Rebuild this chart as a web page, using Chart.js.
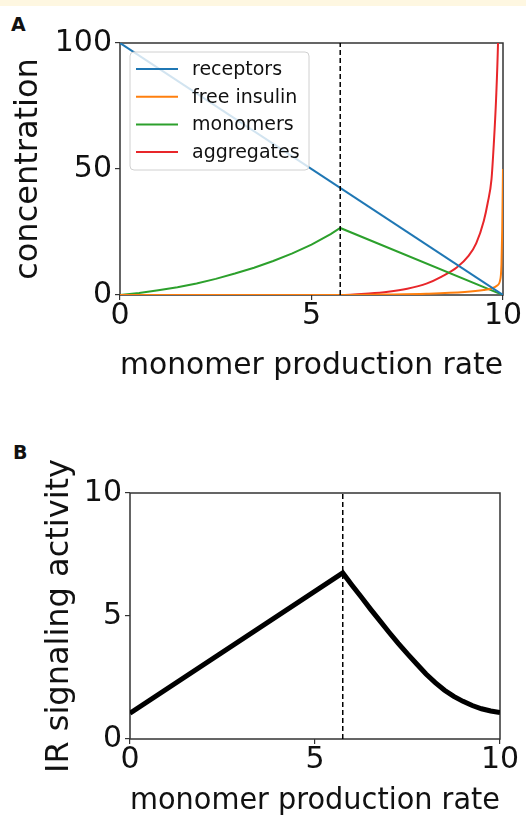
<!DOCTYPE html>
<html>
<head>
<meta charset="utf-8">
<script src="https://cdn.jsdelivr.net/npm/chart.js@4.4.1/dist/chart.umd.min.js"></script>
<style>
  body { margin: 0; background: #fff; }
  #wrap { position: relative; width: 526px; height: 816px; overflow: hidden; background: #fff; }
  #strip { position: absolute; left: 0; top: 0; width: 526px; height: 6px; background: #fef7e1; }
  .panel { position: absolute; font-family: 'DejaVu Sans', sans-serif; font-weight: bold; font-size: 19px; color: #111; }
  canvas { position: absolute; left: 0; }
</style>
</head>
<body>
<div id="wrap">
  <div id="strip"></div>
  <div class="panel" style="left:11px; top:13px;">A</div>
  <div class="panel" style="left:13px; top:441px;">B</div>
  <canvas id="chartA" width="526" height="400" style="top:0px;"></canvas>
  <canvas id="chartB" width="526" height="406" style="top:410px;"></canvas>
</div>
<script>
// x position of the dashed line
const criticalRate = 5.75;

// tick values
const rateTicks = [0, 5, 10];
const concTicks = [0, 50, 100];
const irTicks = [0, 5, 10];

// panel A series
const receptorsX = [0, 10];
const receptorsY = [100, 0];

const insulinX = [0, 5.75, 7, 8, 9, 9.5, 9.7, 9.85, 9.92, 9.96, 9.98, 10];
const insulinY = [0, 0, 0.2, 0.5, 1.2, 2, 2.6, 3.8, 5.5, 12, 26, 50];

const monomersX = [0, 0.5, 1, 1.5, 2, 2.5, 3, 3.5, 4, 4.5, 5, 5.5, 5.75, 10];
const monomersY = [0, 0.8, 1.9, 3.1, 4.6, 6.4, 8.5, 10.8, 13.5, 16.5, 20, 24.2, 26.6, 0];

const aggregatesX = [0, 5.75, 6.5, 7, 7.5, 8, 8.4, 8.8, 9.1, 9.3, 9.5, 9.6, 9.7, 9.76, 9.82, 9.87, 9.92];
const aggregatesY = [0, 0, 0.6, 1.3, 2.5, 4.5, 7.3, 11, 15.5, 20.5, 29.5, 36.5, 46, 60, 78, 100, 140];

// panel B series
const signalX = [0, 5.75, 6, 6.25, 6.5, 6.75, 7, 7.25, 7.5, 7.75, 8, 8.25, 8.5, 8.75, 9, 9.25, 9.5, 9.75, 10];
const signalY = [1.05, 6.75, 6.25, 5.77, 5.28, 4.81, 4.34, 3.89, 3.46, 3.05, 2.64, 2.29, 1.98, 1.73, 1.53, 1.36, 1.23, 1.14, 1.08];

const FONT = 'DejaVu Sans';
const pts = (xs, ys) => xs.map((x, i) => ({ x: x, y: ys[i] }));

const frame = {
  id: 'frame',
  beforeDatasetsDraw(chart) {
    const a = chart.chartArea, ctx = chart.ctx;
    ctx.save();
    ctx.strokeStyle = '#333';
    ctx.lineWidth = 1.5;
    ctx.strokeRect(a.left, a.top, a.right - a.left, a.bottom - a.top);
    ctx.restore();
  }
};

const boxLegend = {
  id: 'boxLegend',
  afterDatasetsDraw(chart) {
    const a = chart.chartArea, ctx = chart.ctx;
    const items = chart.data.datasets.filter(d => d.label);
    const x0 = a.left + 10, y0 = a.top + 9, w = 179, h = 118;
    ctx.save();
    ctx.beginPath();
    ctx.roundRect(x0, y0, w, h, 4);
    ctx.fillStyle = 'rgba(255,255,255,0.8)';
    ctx.fill();
    ctx.strokeStyle = '#d0d0d0';
    ctx.lineWidth = 1;
    ctx.stroke();
    ctx.font = '19px "' + FONT + '"';
    ctx.textBaseline = 'middle';
    items.forEach((d, i) => {
      const y = y0 + 17 + i * 27.7;
      ctx.strokeStyle = d.borderColor;
      ctx.lineWidth = 2;
      ctx.beginPath();
      ctx.moveTo(x0 + 6, y);
      ctx.lineTo(x0 + 48, y);
      ctx.stroke();
      ctx.fillStyle = '#111';
      ctx.fillText(d.label, x0 + 62, y + 1);
    });
    ctx.restore();
  }
};

function axisX(tickVals, height) {
  return {
    type: 'linear', min: 0, max: 10,
    afterBuildTicks: s => { s.ticks = tickVals.map(v => ({ value: v })); },
    afterFit: s => { s.height = height; },
    border: { display: false },
    grid: { drawOnChartArea: false, drawTicks: true, tickLength: 5, color: '#333', lineWidth: 1.2 },
    ticks: { color: '#111', padding: 1, maxRotation: 0, font: { family: FONT, size: 30, lineHeight: 1 } },
    title: { display: true, text: 'monomer production rate', color: '#111', padding: { top: 0, bottom: 0 },
             font: { family: FONT, size: 30, lineHeight: 1 } }
  };
}

function axisY(tickVals, min, max, width, title, titlePad) {
  return {
    type: 'linear', min: min, max: max,
    afterBuildTicks: s => { s.ticks = tickVals.map(v => ({ value: v })); },
    afterFit: s => { s.width = width; },
    border: { display: false },
    grid: { drawOnChartArea: false, drawTicks: true, tickLength: 5, color: '#333', lineWidth: 1.2 },
    ticks: { color: '#111', padding: 3, font: { family: FONT, size: 30, lineHeight: 1 } },
    title: { display: true, text: title, color: '#111', padding: { top: titlePad, bottom: 0 },
             font: { family: FONT, size: 32, lineHeight: 1 } }
  };
}

const lineDs = (label, xs, ys, color, w, smooth) => ({
  label: label, data: pts(xs, ys), borderColor: color, backgroundColor: color,
  borderWidth: w, pointRadius: 0, fill: false,
  cubicInterpolationMode: smooth ? 'monotone' : 'default', tension: smooth ? 0.4 : 0
});

const dashedDs = (top) => ({
  label: '', data: [{ x: criticalRate, y: 0 }, { x: criticalRate, y: top }],
  borderColor: '#000', borderWidth: 1.5, borderDash: [5, 3], pointRadius: 0, fill: false
});

new Chart(document.getElementById('chartA'), {
  type: 'line',
  data: {
    datasets: [
      dashedDs(100),
      lineDs('receptors', receptorsX, receptorsY, '#1f77b4', 2, false),
      lineDs('free insulin', insulinX, insulinY, '#ff7f0e', 2, true),
      lineDs('monomers', monomersX, monomersY, '#2ca02c', 2, false),
      lineDs('aggregates', aggregatesX, aggregatesY, '#e8262a', 2, true)
    ]
  },
  options: {
    responsive: false, animation: false,
    layout: { padding: { top: 43, right: 23, left: 0, bottom: 19 } },
    plugins: { legend: { display: false }, tooltip: { enabled: false } },
    scales: {
      x: axisX(rateTicks, 86),
      y: axisY(concTicks, 0, 100, 120, 'concentration', 13)
    }
  },
  plugins: [frame, boxLegend]
});

new Chart(document.getElementById('chartB'), {
  type: 'line',
  data: {
    datasets: [
      dashedDs(10),
      lineDs('IR signaling', signalX, signalY, '#000', 5, false)
    ]
  },
  options: {
    responsive: false, animation: false,
    layout: { padding: { top: 83, right: 26, left: 0, bottom: 0 } },
    plugins: { legend: { display: false }, tooltip: { enabled: false } },
    scales: {
      x: axisX(rateTicks, 77),
      y: axisY(irTicks, 0, 10, 130, 'IR signaling activity', 44)
    }
  },
  plugins: [frame]
});
</script>
</body>
</html>
